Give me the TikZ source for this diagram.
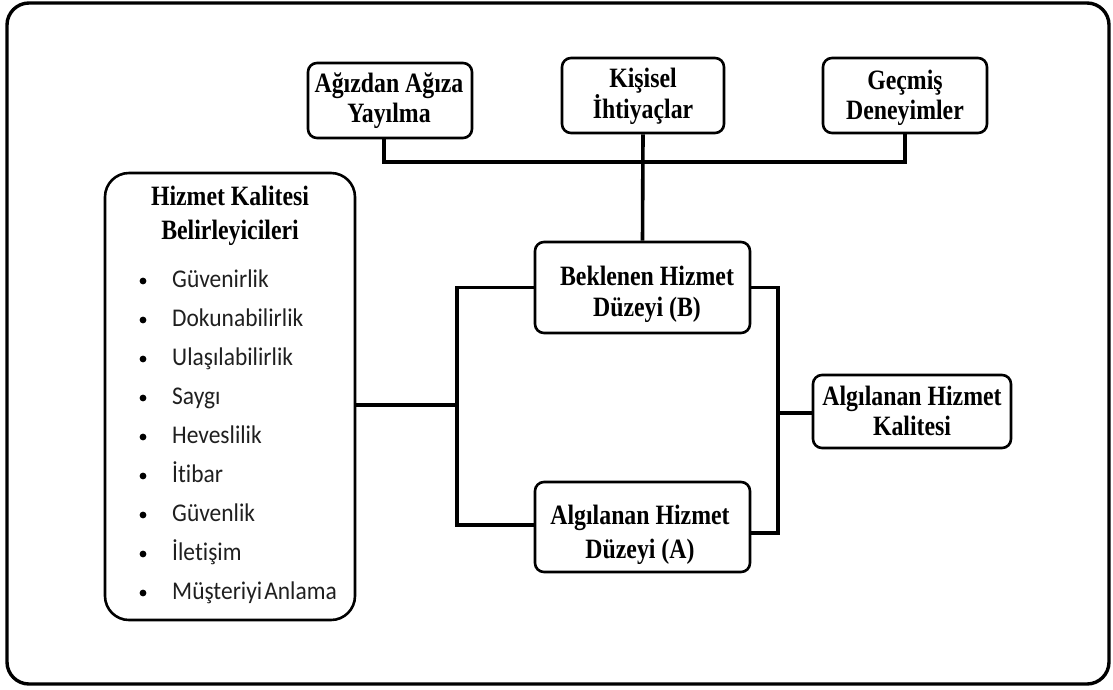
\documentclass[tikz,border=0pt]{standalone}
\usepackage{fontspec}
\setmainfont{Liberation Serif}[FakeStretch=0.85]
\newfontfamily\itemfont{Carlito}[FakeStretch=0.92, Ligatures=NoCommon]
\begin{document}
\begin{tikzpicture}[x=1pt,y=-1pt,
  box/.style={draw, line width=2.6pt, rounded corners=9pt, inner sep=0pt},
  lbl/.style={anchor=base, align=center, inner sep=0pt,
    font=\fontsize{28}{#1}\selectfont\bfseries},
  link/.style={line width=3.6pt},
  itemtext/.style={anchor=base west, inner sep=0pt, font=\itemfont\fontsize{25.5}{29}\selectfont, text=black!88},
  dot/.style={circle, fill=black, inner sep=0pt, minimum size=6.8pt}]
\useasboundingbox (0,0) rectangle (1113,689);
% outer frame
\draw[line width=3.4pt, rounded corners=22pt] (7,3) rectangle (1109,684);

% antecedents on top (labels anchored at the baseline of their last line)
\node[box, minimum width=164pt, minimum height=75pt] (agiz) at (390,100.5) {};
\node[lbl=30] (agizt) at (389,122) {Ağızdan Ağıza\\Yayılma};
\node[box, minimum width=162pt, minimum height=75pt] (kisisel) at (643,95.5) {};
\node[lbl=29.5] (kisiselt) at (643,118.5) {Kişisel\\İhtiyaçlar};
\node[box, minimum width=164pt, minimum height=75pt] (gecmis) at (905,95.5) {};
\node[lbl=29.5] (gecmist) at (905,119) {Geçmiş\\Deneyimler};

% expected and perceived service levels
\node[box, minimum width=215pt, minimum height=91pt] (bek) at (642.5,287.5) {};
\node[lbl=31] (bekt) at (647,316) {Beklenen Hizmet\\Düzeyi (B)};
\node[box, minimum width=215pt, minimum height=90pt] (alga) at (642.5,527) {};
\node[lbl=34] (algat) at (640,558) {Algılanan Hizmet\\Düzeyi (A)};
\node[box, minimum width=198pt, minimum height=73pt] (kal) at (912,411.5) {};
\node[lbl=30] (kalt) at (912,435) {Algılanan Hizmet\\Kalitesi};

% determinants box with its list
\node[draw, line width=2.6pt, rounded corners=24pt, minimum width=250pt, minimum height=447pt, inner sep=0pt] (hiz) at (230,396.5) {};
\node[lbl=34] (hiztitle) at (230,239) {Hizmet Kalitesi\\Belirleyicileri};
\foreach \t [count=\i] in {Güvenirlik,Dokunabilirlik,Ulaşılabilirlik,Saygı,Heveslilik,İtibar,Güvenlik,İletişim,Müşteriyi\hspace{2pt}Anlama}{
  \node[dot] (b\i) at (143,{287+39*(\i-1)-6}) {};
  \node[itemtext] (t\i) at (172,{287+39*(\i-1)}) {\t};
}

% connectors
\coordinate (bar) at (0,162);
\draw[link] ([xshift=-6pt]agiz.south) -- ([xshift=-6pt]agiz.south |- bar) -- (gecmis.south |- bar) -- (gecmis.south);
\draw[link] (kisisel.south) -- (bek.north);

\coordinate (lj) at (457,405);
\draw[link] (hiz.east |- lj) -- (lj);
\draw[link] (bek.west) -| (lj) |- ([yshift=2pt]alga.west);

\coordinate (rj) at (778,413);
\draw[link] (bek.east) -| (rj) |- ([yshift=-6pt]alga.east);
\draw[link] (rj) -- (kal.west |- rj);
\end{tikzpicture}
\end{document}
